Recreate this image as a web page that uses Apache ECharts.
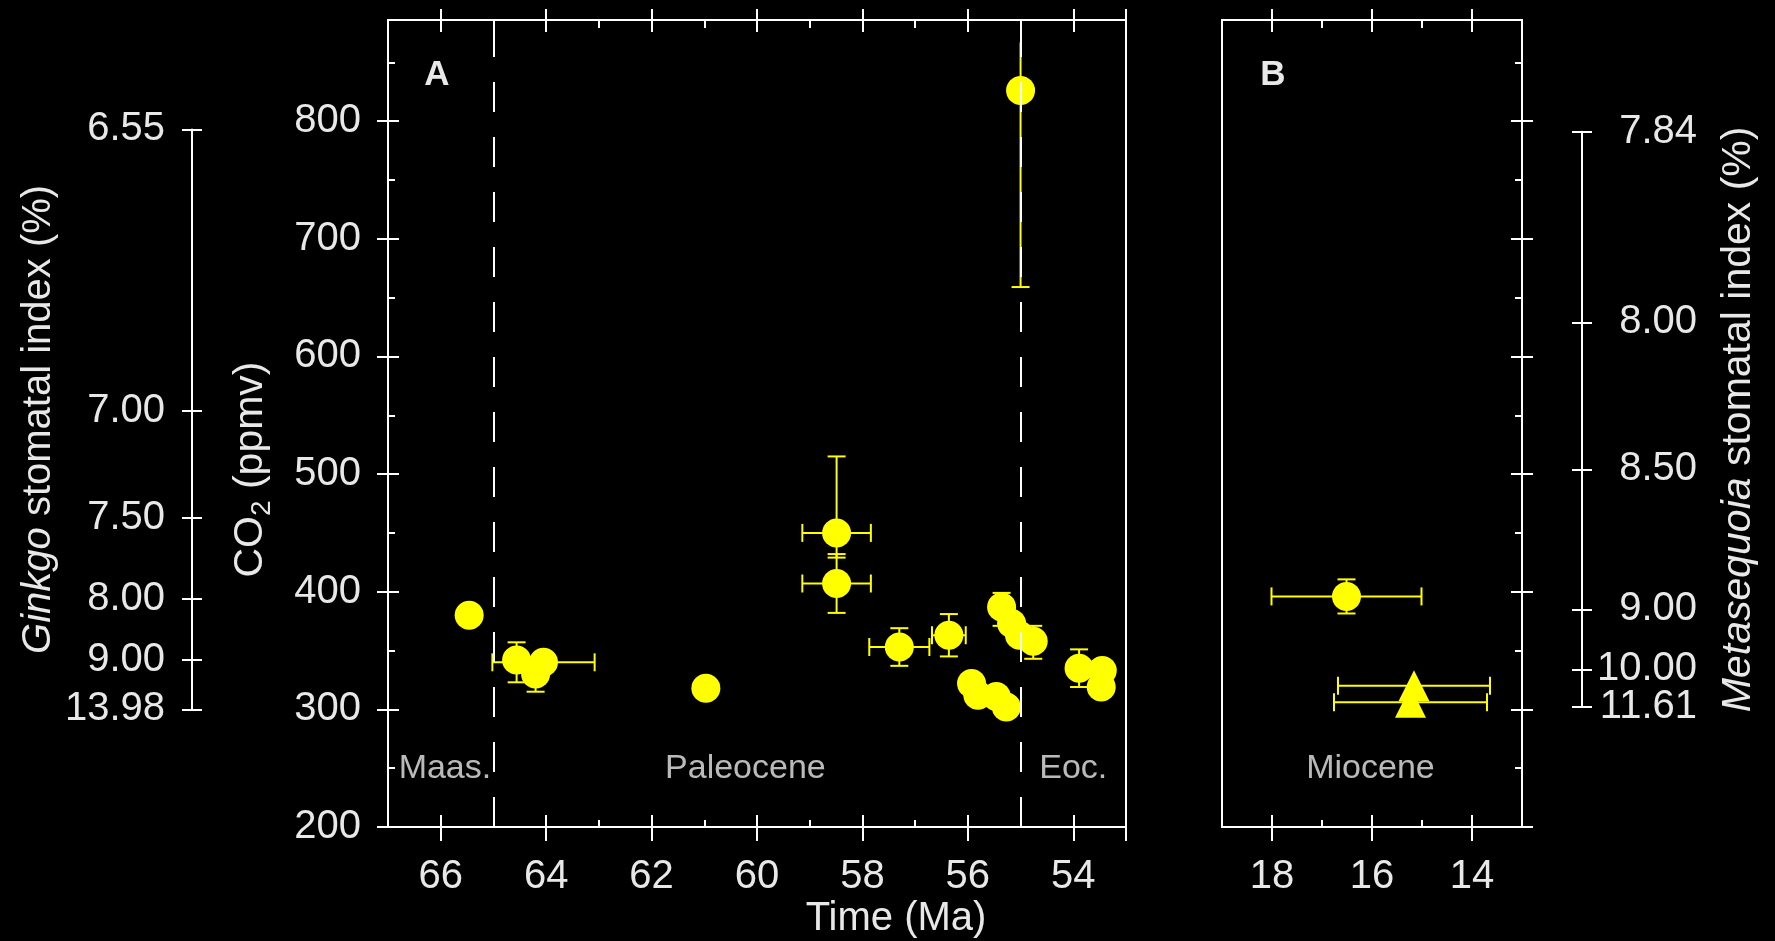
<!DOCTYPE html>
<html>
<head>
<meta charset="utf-8">
<script src="https://cdn.jsdelivr.net/npm/echarts@6/dist/echarts.min.js"></script>
<style>
  html, body { margin: 0; padding: 0; background: #000; }
  #chart { width: 1775px; height: 941px; }
</style>
</head>
<body>
<div id="chart"></div>
<script>
// ---- axis ticks ----
const timeMajorA = [66, 64, 62, 60, 58, 56, 54];
const timeMinorA = [65, 63, 61, 59, 57, 55];
const timeMajorB = [18, 16, 14];
const timeMinorB = [17, 15];
const co2Major = [200, 300, 400, 500, 600, 700, 800];
const co2Minor = [250, 350, 450, 550, 650, 750, 850];

// stomatal index scales, placed at their CO2 equivalents
const ginkgoLabels = ['6.55', '7.00', '7.50', '8.00', '9.00', '13.98'];
const ginkgoCO2 = [793, 554, 463, 394, 342, 300];
const metaLabels = ['7.84', '8.00', '8.50', '9.00', '10.00', '11.61'];
const metaCO2 = [791, 629, 504, 385, 334, 302];

// ---- panel A: Paleocene / Eocene ----
const paleoAge =     [65.46, 64.56, 64.20, 64.05, 60.97, 58.49, 58.49, 57.30, 56.36, 55.93, 55.81, 55.46, 55.27, 55.36, 55.17, 55.02, 54.76, 55.00, 53.89, 53.45, 53.47];
const paleoCO2 =     [380,   342,   330,   340,   318,   450,   407,   353,   363,   322,   312,   311,   302,   387,   373,   363,   358,   826,   335,   333,   319];
const paleoAgeErr =  [0,     0,     0,     0.97,  0,     0.65,  0.65,  0.57,  0.32,  0,     0,     0,     0,     0,     0,     0,     0,     0,     0,     0,     0];
const paleoCO2Up =   [0,     15,    0,     0,     0,     65,    25,    16,    18,    0,     0,     0,     0,     12,    0,     0,     13,    41,    16,    0,     0];
const paleoCO2Down = [0,     19,    15,    0,     0,     21,    25,    16,    18,    0,     0,     0,     0,     16,    0,     0,     15,    167,   16,    0,     0];

// ---- panel B: Miocene ----
const mioCircAge = [16.51];
const mioCircCO2 = [396];
const mioCircAgeErr = [1.5];
const mioCircCO2Err = [14.5];
const mioTriAge = [15.16, 15.23];
const mioTriCO2 = [320, 306];
const mioTriAgeErr = [1.52, 1.53];

// epoch boundaries and names
const boundaryAge = [65, 55];
const epochNamesA = ['Maas.', 'Paleocene', 'Eoc.'];
const epochAgeA = [65.92, 60.22, 54.0];
const epochNamesB = ['Miocene'];
const epochAgeB = [16.03];
const epochCO2 = 250;

// ---- layout ----
const lineCol = '#ffffff';
const textCol = '#e8e8e8';
const yellow = '#ffff00';
const font = '"Liberation Sans", Arial, sans-serif';
const plotTop = 20, plotBottom = 827;
const co2Min = 200, co2Max = 886;
function py(v) {
  return plotBottom - (v - co2Min) / (co2Max - co2Min) * (plotBottom - plotTop);
}

const grids = [], xAxes = [], yAxes = [];
function grid(r) {
  grids.push({ left: r.left, top: r.top, width: r.width, height: r.height, show: false, outerBoundsMode: 'none', containLabel: false });
  return grids.length - 1;
}
function axis(list, gi, pos, min, max, inverse, extra) {
  const a = {
    type: 'value', gridIndex: gi, position: pos, min: min, max: max, inverse: !!inverse,
    axisLine: { show: false, onZero: false },
    axisTick: { show: false }, axisLabel: { show: false },
    splitLine: { show: false }, minorTick: { show: false }
  };
  Object.assign(a, extra || {});
  list.push(a);
  return list.length - 1;
}
function ticks(values, length, inside) {
  return { show: true, inside: inside, length: length, customValues: values, lineStyle: { color: lineCol, width: 2 } };
}
const line = { show: true, onZero: false, lineStyle: { color: lineCol, width: 2 } };
const labelStyle = { show: true, color: textCol, fontSize: 40, fontFamily: font, showMinLabel: true, showMaxLabel: true, hideOverlap: false };
function nearest(arr, v) {
  let best = 0;
  arr.forEach((a, i) => { if (Math.abs(a - v) < Math.abs(arr[best] - v)) best = i; });
  return best;
}
const evens = arr => arr.filter((v, i) => i % 2 === 0);
const odds = arr => arr.filter((v, i) => i % 2 === 1);

// panel A (outer ticks also mark the right edge, as the frame does in the original)
const rectA = { left: 388, top: plotTop, width: 738, height: plotBottom - plotTop };
const gA = grid(rectA), gA2 = grid(rectA), gA3 = grid(rectA);
const outerA = timeMajorA.concat([53]);
const xA = axis(xAxes, gA, 'bottom', 53, 67, true, {
  axisLine: line, axisTick: ticks(outerA, 14, false),
  axisLabel: Object.assign({}, labelStyle, { customValues: timeMajorA, margin: 30 })
});
axis(xAxes, gA, 'top', 53, 67, true, { axisLine: line, axisTick: ticks(outerA, 11, false) });
const yA = axis(yAxes, gA, 'left', co2Min, co2Max, false, {
  axisLine: line, axisTick: ticks(co2Major, 11, false),
  axisLabel: Object.assign({}, labelStyle, { customValues: co2Major, margin: 27 }),
  name: '{a|CO}{s|2}{a| (ppmv)}', nameLocation: 'middle', nameGap: 112,
  nameTextStyle: {
    color: textCol, fontFamily: font, padding: [0, 92, 0, 0],
    rich: {
      a: { color: textCol, fontFamily: font, fontSize: 41, lineHeight: 50 },
      s: { color: textCol, fontFamily: font, fontSize: 28, lineHeight: 28, verticalAlign: 'bottom' }
    }
  }
});
axis(yAxes, gA, 'right', co2Min, co2Max, false, { axisLine: line });
axis(xAxes, gA2, 'bottom', 53, 67, true, { axisTick: ticks(timeMajorA, 12, true) });
axis(xAxes, gA2, 'top', 53, 67, true, { axisTick: ticks(timeMajorA, 12, true) });
axis(yAxes, gA2, 'left', co2Min, co2Max, false, { axisTick: ticks(co2Major, 11, true) });
axis(xAxes, gA3, 'bottom', 53, 67, true, { axisTick: ticks(timeMinorA, 7, true) });
axis(xAxes, gA3, 'top', 53, 67, true, { axisTick: ticks(timeMinorA, 8, true) });
axis(yAxes, gA3, 'left', co2Min, co2Max, false, { axisTick: ticks(co2Minor, 7, true) });

// panel B
const rectB = { left: 1222, top: plotTop, width: 300, height: plotBottom - plotTop };
const gB = grid(rectB), gB2 = grid(rectB), gB3 = grid(rectB);
const xB = axis(xAxes, gB, 'bottom', 13, 19, true, {
  axisLine: line, axisTick: ticks(timeMajorB, 14, false),
  axisLabel: Object.assign({}, labelStyle, { customValues: timeMajorB, margin: 30 })
});
axis(xAxes, gB, 'top', 13, 19, true, { axisLine: line, axisTick: ticks(timeMajorB, 11, false) });
const yB = axis(yAxes, gB, 'right', co2Min, co2Max, false, { axisLine: line, axisTick: ticks(co2Major, 11, false) });
axis(yAxes, gB, 'left', co2Min, co2Max, false, { axisLine: line });
axis(xAxes, gB2, 'bottom', 13, 19, true, { axisTick: ticks(timeMajorB, 12, true) });
axis(xAxes, gB2, 'top', 13, 19, true, { axisTick: ticks(timeMajorB, 12, true) });
axis(yAxes, gB2, 'right', co2Min, co2Max, false, { axisTick: ticks(co2Major, 11, true) });
axis(xAxes, gB3, 'bottom', 13, 19, true, { axisTick: ticks(timeMinorB, 7, true) });
axis(xAxes, gB3, 'top', 13, 19, true, { axisTick: ticks(timeMinorB, 8, true) });
axis(yAxes, gB3, 'right', co2Min, co2Max, false, { axisTick: ticks(co2Minor, 7, true) });

// side scales: labels split over two stacked axes so close labels are never dropped
function sideScale(left, pos, values, labels, margin, align, nameText, nameGap, nameSize) {
  const lo = values[values.length - 1], hi = values[0];
  const r = { left: left, top: py(hi), width: 10, height: py(lo) - py(hi) };
  const g1 = grid(r), g2 = grid(r);
  axis(xAxes, g1, 'bottom', 0, 1, false, {});
  axis(xAxes, g2, 'bottom', 0, 1, false, {});
  const lab = vals => Object.assign({}, labelStyle, {
    customValues: vals, margin: margin, align: align,
    formatter: v => labels[nearest(values, v)]
  });
  axis(yAxes, g1, pos, lo, hi, false, {
    axisLine: line, axisTick: ticks(values, 10, false),
    axisLabel: lab(evens(values)),
    name: nameText, nameLocation: 'middle', nameGap: nameGap,
    nameTextStyle: {
      color: textCol, fontFamily: font, fontSize: nameSize,
      rich: { i: { color: textCol, fontFamily: font, fontSize: nameSize, fontStyle: 'italic' } }
    }
  });
  axis(yAxes, g2, pos, lo, hi, false, { axisTick: ticks(values, 10, true), axisLabel: lab(odds(values)) });
}
sideScale(192, 'left', ginkgoCO2, ginkgoLabels, 27, 'right', '{i|Ginkgo} stomatal index (%)', 133, 40);
sideScale(1572, 'right', metaCO2, metaLabels, 115, 'right', '{i|Metasequoia} stomatal index (%)', 136, 41);

// ---- series helpers ----
function errRows(age, co2, ageErr, up, down) {
  return age.map((a, i) => [a, co2[i], a - ageErr[i], a + ageErr[i], co2[i] - down[i], co2[i] + up[i]]);
}
function errorBars(params, api) {
  const x = api.value(0), y = api.value(1);
  const xl = api.value(2), xh = api.value(3), yl = api.value(4), yh = api.value(5);
  const style = { stroke: yellow, lineWidth: 2, fill: null };
  const cap = 9;
  const kids = [];
  const seg = (x1, y1, x2, y2) => kids.push({ type: 'line', shape: { x1: x1, y1: y1, x2: x2, y2: y2 }, style: style });
  if (yh > yl) {
    const a = api.coord([x, yl]), b = api.coord([x, yh]);
    seg(a[0], a[1], b[0], b[1]);
    seg(a[0] - cap, a[1], a[0] + cap, a[1]);
    // the original leaves a bar that runs up near the frame open-ended
    if (yh < co2Max - 25) seg(b[0] - cap, b[1], b[0] + cap, b[1]);
  }
  if (xh > xl) {
    const a = api.coord([xl, y]), b = api.coord([xh, y]);
    seg(a[0], a[1], b[0], b[1]);
    seg(a[0], a[1] - cap, a[0], a[1] + cap);
    seg(b[0], b[1] - cap, b[0], b[1] + cap);
  }
  return { type: 'group', children: kids };
}
function epochSeries(xi, yi, names, ages) {
  return {
    type: 'scatter', xAxisIndex: xi, yAxisIndex: yi, silent: true, z: 4,
    symbol: 'circle', symbolSize: 1, itemStyle: { color: 'rgba(0,0,0,0)' },
    data: ages.map(a => [a, epochCO2]),
    label: { show: true, position: 'inside', formatter: p => names[p.dataIndex], color: textCol, fontSize: 34, fontFamily: font }
  };
}

const option = {
  backgroundColor: '#000000',
  animation: false,
  grid: grids,
  xAxis: xAxes,
  yAxis: yAxes,
  graphic: [
    { type: 'text', x: 437, y: 75, style: { text: 'A', fill: textCol, font: 'bold 35px "Liberation Sans", Arial, sans-serif', align: 'center', verticalAlign: 'middle', textAlign: 'center', textVerticalAlign: 'middle' } },
    { type: 'text', x: 1273, y: 75, style: { text: 'B', fill: textCol, font: 'bold 35px "Liberation Sans", Arial, sans-serif', align: 'center', verticalAlign: 'middle', textAlign: 'center', textVerticalAlign: 'middle' } },
    { type: 'text', x: 896, y: 919, style: { text: 'Time (Ma)', fill: textCol, font: '40px "Liberation Sans", Arial, sans-serif', align: 'center', verticalAlign: 'middle', textAlign: 'center', textVerticalAlign: 'middle' } }
  ],
  series: [
    {
      // epoch boundaries, drawn beneath the data
      type: 'scatter', xAxisIndex: xA, yAxisIndex: yA, silent: true, z: 1, data: [],
      markLine: {
        silent: true, symbol: 'none', label: { show: false },
        lineStyle: { color: lineCol, width: 2, type: [30, 25] },
        data: boundaryAge.map(a => ({ xAxis: a }))
      }
    },
    {
      type: 'custom', xAxisIndex: xA, yAxisIndex: yA, silent: true, z: 2,
      renderItem: errorBars, encode: { x: 0, y: 1 },
      data: errRows(paleoAge, paleoCO2, paleoAgeErr, paleoCO2Up, paleoCO2Down)
    },
    {
      type: 'scatter', xAxisIndex: xA, yAxisIndex: yA, silent: true, z: 3,
      symbol: 'circle', symbolSize: 29, itemStyle: { color: yellow, opacity: 1 },
      data: paleoAge.map((a, i) => [a, paleoCO2[i]])
    },
    epochSeries(xA, yA, epochNamesA, epochAgeA),
    {
      type: 'custom', xAxisIndex: xB, yAxisIndex: yB, silent: true, z: 2,
      renderItem: errorBars, encode: { x: 0, y: 1 },
      data: errRows(mioCircAge, mioCircCO2, mioCircAgeErr, mioCircCO2Err, mioCircCO2Err)
        .concat(errRows(mioTriAge, mioTriCO2, mioTriAgeErr, [0, 0], [0, 0]))
    },
    {
      type: 'scatter', xAxisIndex: xB, yAxisIndex: yB, silent: true, z: 3,
      symbol: 'circle', symbolSize: 29, itemStyle: { color: yellow, opacity: 1 },
      data: mioCircAge.map((a, i) => [a, mioCircCO2[i]])
    },
    {
      type: 'scatter', xAxisIndex: xB, yAxisIndex: yB, silent: true, z: 3,
      symbol: 'triangle', symbolSize: 31, itemStyle: { color: yellow, opacity: 1 },
      data: mioTriAge.map((a, i) => [a, mioTriCO2[i]])
    },
    epochSeries(xB, yB, epochNamesB, epochAgeB)
  ]
};

const chart = echarts.init(document.getElementById('chart'), null, { renderer: 'canvas' });
chart.setOption(option);
</script>
</body>
</html>
